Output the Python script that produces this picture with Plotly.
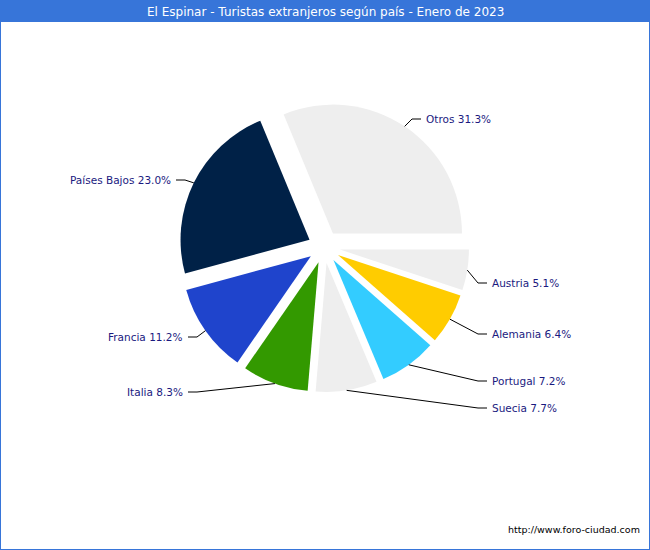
import math
import plotly.graph_objects as go

# ---- data ----
labels = ["Otros", "Países Bajos", "Francia", "Italia", "Suecia", "Portugal", "Alemania", "Austria"]
values = [31.3, 23.0, 11.2, 8.3, 7.7, 7.2, 6.4, 5.1]
colors = ["#eeeeee", "#002147", "#1f44cc", "#339900", "#eeeeee", "#33ccff", "#ffcc00", "#eeeeee"]

# ---- layout (pixels) ----
W, H = 650, 550
cx, cy, r, pull = 324, 247, 129, 0.125
label_x = [426, 171, 183, 183, 492, 492, 492, 492]
label_y = [119, 180, 337, 392, 408, 381, 334, 283]
text_color = "#1a1a80"
blue = "#3775d9"

total = sum(values)
# plotly (counterclockwise): first slice spans [rotation, rotation + its angle] measured clockwise from 12 o'clock
rotation = 90 - 360 * values[0] / total

box = r * (2 + 2 * pull)
fig = go.Figure(go.Pie(
    labels=labels, values=values, sort=False, direction="counterclockwise", rotation=rotation,
    marker=dict(colors=colors, line=dict(width=0)), pull=[pull] * len(values),
    textinfo="none", hoverinfo="label+percent", showlegend=False,
    domain=dict(x=[(cx - box / 2) / W, (cx + box / 2) / W],
                y=[1 - (cy + box / 2) / H, 1 - (cy - box / 2) / H]),
))

px = lambda x: x / W
py = lambda y: 1 - y / H

cum = 0.0
annotations, shapes = [], []
for lab, v, lx, ly in zip(labels, values, label_x, label_y):
    mid = math.radians((cum + v / 2) / total * 360)
    cum += v
    ax = cx + r * (1 + pull) * math.cos(mid)
    ay = cy - r * (1 + pull) * math.sin(mid)
    right = math.cos(mid) > 0
    s = 1 if right else -1
    ex, ee = lx - s * 14, lx - s * 5
    shapes.append(dict(type="path", xref="paper", yref="paper",
                       path=f"M {px(ax)},{py(ay)} L {px(ex)},{py(ly)} L {px(ee)},{py(ly)}",
                       line=dict(color="black", width=1)))
    annotations.append(dict(x=px(lx - s * 2), y=py(ly), xref="paper", yref="paper",
                            text=f"{lab} {v:.1f}%", showarrow=False,
                            xanchor="left" if right else "right", yanchor="middle",
                            font=dict(family="DejaVu Sans", size=10.5, color=text_color)))

# title bar and frame
shapes.append(dict(type="rect", xref="paper", yref="paper", x0=0, x1=1, y0=py(22), y1=1,
                   fillcolor=blue, line=dict(width=0), layer="below"))
shapes.append(dict(type="rect", xref="paper", yref="paper", x0=0, x1=1, y0=0, y1=1,
                   line=dict(color=blue, width=2), fillcolor="rgba(0,0,0,0)"))
annotations.append(dict(x=0.5, y=py(12), xref="paper", yref="paper", showarrow=False,
                        text="El Espinar - Turistas extranjeros según país - Enero de 2023",
                        xanchor="center", yanchor="middle",
                        font=dict(family="DejaVu Sans", size=12, color="white")))
annotations.append(dict(x=px(642), y=py(529), xref="paper", yref="paper", showarrow=False,
                        text="http://www.foro-ciudad.com", xanchor="right", yanchor="middle",
                        font=dict(family="DejaVu Sans", size=9.5, color="black")))

fig.update_layout(width=W, height=H, margin=dict(l=0, r=0, t=0, b=0),
                  paper_bgcolor="white", plot_bgcolor="white",
                  annotations=annotations, shapes=shapes)
fig.write_html("out.html", config={"displayModeBar": False},
               post_script="document.body.style.margin='0';document.body.style.overflow='hidden';")
